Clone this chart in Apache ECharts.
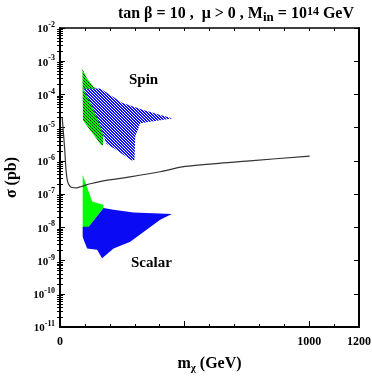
<!DOCTYPE html>
<html><head><meta charset="utf-8">
<script src="https://cdn.jsdelivr.net/npm/echarts@6/dist/echarts.min.js"></script>
<style>html,body{margin:0;padding:0;background:#fff}#c{width:372px;height:382px}</style>
</head><body><div id="c"></div>
<script>
// ---- data ----
const curveX = [9, 19, 24, 29, 36, 48, 66, 86, 122, 174, 282, 402, 502, 762, 1002];
const curveY = [1.95e-5, 2.14e-6, 5.4e-7, 2.7e-7, 1.9e-7, 1.58e-7, 1.55e-7, 1.7e-7, 2.05e-7, 2.5e-7, 3.3e-7, 4.7e-7, 6.8e-7, 1.0e-6, 1.4e-6];

const spinGreenX = [90, 107, 134, 154, 178, 172, 166, 92];
const spinGreenY = [5.9e-4, 3.1e-4, 1.7e-4, 1.38e-4, 1.7e-5, 2.95e-6, 2.95e-6, 1.66e-5];

const spinBlueX = [93, 162, 249, 335, 442, 450, 322, 302, 299, 286, 219, 186, 153, 126];
const spinBlueY = [1.48e-4, 1.5e-4, 5.6e-5, 3.4e-5, 2.0e-5, 1.9e-5, 1.35e-5, 5.4e-6, 1.05e-6, 1.05e-6, 2.3e-6, 3.3e-6, 1.66e-5, 4.8e-5];

const scalarGreenX = [91, 129, 173, 175, 115, 91];
const scalarGreenY = [3.8e-7, 6.0e-8, 4.8e-8, 3.8e-8, 1.05e-8, 9.5e-9];

const scalarBlueX = [91, 115, 175, 215, 295, 449, 402, 282, 215, 169, 149, 109, 95, 91];
const scalarBlueY = [1.05e-8, 1.05e-8, 3.8e-8, 3.4e-8, 2.8e-8, 2.5e-8, 1.7e-8, 3.7e-9, 2.3e-9, 1.17e-9, 2.1e-9, 2.3e-9, 4.2e-9, 5.2e-9];

const xLabelValues = [0, 1000, 1200];
const xMajorTicks = [0, 500, 1000];
const yMinorTicks = [];
for (let e = -11; e < -2; e++) for (let m = 2; m <= 9; m++) yMinorTicks.push(m * Math.pow(10, e));

// ---- helpers ----
const FONT = "'Liberation Serif','Times New Roman',serif";
function zip(xs, ys) { return xs.map((x, i) => [x, ys[i]]); }
function stripes(base, line) {
  const c = document.createElement('canvas'); c.width = 3; c.height = 3;
  const g = c.getContext('2d'); g.fillStyle = base; g.fillRect(0, 0, 3, 3);
  g.fillStyle = line; for (let i = 0; i < 3; i++) g.fillRect(i, i, 1, 1);
  return c;
}
function poly(name, xs, ys, fill, z) {
  const pts = zip(xs, ys);
  return {
    type: 'custom', name, xAxisIndex: 0, yAxisIndex: 0, z, silent: true,
    data: [pts[0]],
    renderItem: (params, api) => ({
      type: 'polygon',
      shape: { points: pts.map(p => api.coord(p)) },
      style: { fill: fill, stroke: null }
    })
  };
}

const chart = echarts.init(document.getElementById('c'), null, { renderer: 'canvas' });
const grid = { left: 60, right: 13, top: 28, bottom: 55, containLabel: false, outerBoundsMode: 'none' };
const axLine = w => ({ show: true, onZero: false, lineStyle: { color: '#000', width: w } });
const baseX = { type: 'value', min: 0, max: 1200, interval: 100, splitLine: { show: false } };
const baseY = { type: 'log', logBase: 10, min: 1e-11, max: 1e-2, interval: 1, splitLine: { show: false } };

const option = {
  animation: false,
  backgroundColor: '#fff',
  title: {
    text: '{t|tan }{t|β}{t| = 10 ,  }{t|μ}{t| > 0 , M}{sub|in}{t| = 10}{sup|14}{t| GeV}',
    right: 13, top: 1,
    textStyle: {
      rich: {
        t: { fontFamily: FONT, fontWeight: 'bold', fontSize: 16, color: '#000', lineHeight: 18, verticalAlign: 'top' },
        sup: { fontFamily: FONT, fontWeight: 'bold', fontSize: 12, color: '#000', verticalAlign: 'top', lineHeight: 12 },
        sub: { fontFamily: FONT, fontWeight: 'bold', fontSize: 13, color: '#000', verticalAlign: 'bottom', lineHeight: 13 }
      }
    }
  },
  grid: grid,
  xAxis: [
    Object.assign({}, baseX, {
      position: 'bottom', axisLine: axLine(2),
      axisTick: { inside: true, length: 3, lineStyle: { color: '#000' } },
      axisLabel: { customValues: xLabelValues, formatter: v => String(v), margin: 9, color: '#000', fontFamily: FONT, fontWeight: 'bold', fontSize: 12 },
      name: '{b|m}{s|χ}{b| (GeV)}', nameLocation: 'middle', nameGap: 29,
      nameTextStyle: { rich: {
        b: { fontFamily: FONT, fontWeight: 'bold', fontSize: 16, color: '#000', lineHeight: 18, verticalAlign: 'top' },
        s: { fontFamily: FONT, fontWeight: 'bold', fontSize: 11, color: '#000', lineHeight: 11, verticalAlign: 'bottom' }
      } }
    }),
    Object.assign({}, baseX, {
      position: 'bottom', axisLine: { show: false },
      axisTick: { inside: true, length: 6, customValues: xMajorTicks, lineStyle: { color: '#000' } },
      axisLabel: { show: false }
    }),
    Object.assign({}, baseX, {
      position: 'top', axisLine: axLine(1.5),
      axisTick: { inside: true, length: 3, lineStyle: { color: '#000' } },
      axisLabel: { show: false }
    })
  ],
  yAxis: [
    Object.assign({}, baseY, {
      position: 'left', axisLine: axLine(2),
      axisTick: { inside: true, length: 5, lineStyle: { color: '#000' } },
      axisLabel: {
        margin: 5, color: '#000',
        formatter: v => '{b|10}{s|' + Math.round(Math.log10(v)) + '}',
        rich: {
          b: { fontFamily: FONT, fontWeight: 'bold', fontSize: 11, color: '#000', lineHeight: 14, verticalAlign: 'bottom' },
          s: { fontFamily: FONT, fontWeight: 'bold', fontSize: 8, color: '#000', lineHeight: 14, verticalAlign: 'top' }
        }
      },
      name: 'σ (pb)', nameLocation: 'middle', nameGap: 40, nameRotate: 90,
      nameTextStyle: { fontFamily: FONT, fontWeight: 'bold', fontSize: 16, color: '#000' }
    }),
    Object.assign({}, baseY, {
      position: 'left', axisLine: { show: false },
      axisTick: { inside: true, length: 3, customValues: yMinorTicks, lineStyle: { color: '#000' } },
      axisLabel: { show: false }
    }),
    Object.assign({}, baseY, {
      position: 'right', axisLine: axLine(2),
      axisTick: { inside: true, length: 5, lineStyle: { color: '#000' } },
      axisLabel: { show: false }
    }),
    Object.assign({}, baseY, {
      position: 'right', axisLine: { show: false },
      axisTick: { inside: true, length: 3, customValues: yMinorTicks, lineStyle: { color: '#000' } },
      axisLabel: { show: false }
    })
  ],
  graphic: [
    { type: 'text', left: 129, top: 73, style: { text: 'Spin', fontFamily: FONT, fontWeight: 'bold', fontSize: 15, fill: '#000' } },
    { type: 'text', left: 131, top: 256, style: { text: 'Scalar', fontFamily: FONT, fontWeight: 'bold', fontSize: 15, fill: '#000' } }
  ],
  series: [
    poly('spinGreen', spinGreenX, spinGreenY, { image: stripes('#00ff00', '#103010'), repeat: 'repeat' }, 2),
    poly('spinBlue', spinBlueX, spinBlueY, { image: stripes('#1212ff', '#ffffff'), repeat: 'repeat' }, 3),
    poly('scalarGreen', scalarGreenX, scalarGreenY, '#00ff00', 2),
    poly('scalarBlue', scalarBlueX, scalarBlueY, '#0a0af5', 3),
    {
      type: 'line', name: 'limit', xAxisIndex: 0, yAxisIndex: 0, z: 5,
      data: zip(curveX, curveY), showSymbol: false, smooth: 0.3,
      lineStyle: { color: '#333', width: 1.2 }
    }
  ]
};
chart.setOption(option);
</script></body></html>
